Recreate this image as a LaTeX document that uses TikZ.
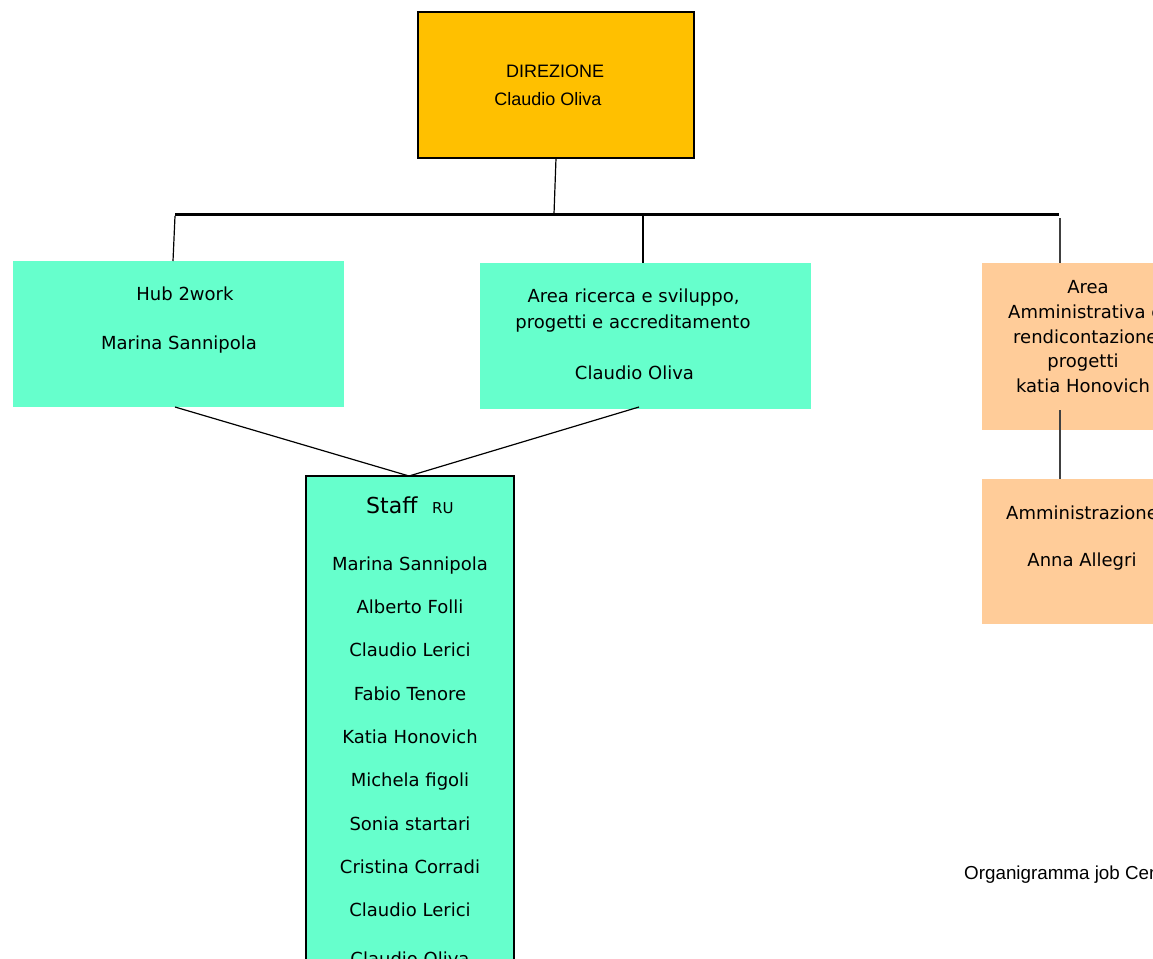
\documentclass[tikz,border=0pt]{standalone}
\usepackage{fontspec}
\setmainfont{Liberation Sans}
\newfontfamily\dv{DejaVu Sans}
\definecolor{aqua}{HTML}{66FFCC}
\definecolor{gold}{HTML}{FFC000}
\definecolor{peach}{HTML}{FFCC99}
\begin{document}
\begin{tikzpicture}[x=1pt,y=-1pt,
  box/.style={inner sep=0, outer sep=0, anchor=north west},
  txt/.style={font=\dv\fontsize{18}{21}\selectfont, inner sep=0, anchor=base},
  atxt/.style={font=\fontsize{18}{21}\selectfont, inner sep=0, anchor=base},
  conn/.style={line width=1.2pt, black}]
\useasboundingbox (0,0) rectangle (1153,958);
\clip (0,0) rectangle (1153,958);
\fill[white] (0,0) rectangle (1153,958);
% boxes
\node[box, fill=gold, draw=black, line width=2pt, minimum width=276, minimum height=146] (dir) at (418,12) {};
\node[box, fill=aqua, minimum width=331, minimum height=146] (hub) at (13,261) {};
\node[box, fill=aqua, minimum width=331, minimum height=146] (ric) at (480,263) {};
\node[box, fill=peach, minimum width=200, minimum height=167] (amm) at (982,263) {};
\node[box, fill=peach, minimum width=200, minimum height=145] (ammz) at (982,479) {};
\node[box, fill=aqua, draw=black, line width=1.3pt, minimum width=208, minimum height=520] (staff) at (306,476) {};
% bus
\coordinate (busL) at (175,214);
\coordinate (busR) at (1059,214);
\coordinate (busM) at (554,214);
\coordinate (busH) at (175,216);
\coordinate (busR2) at (643,216);
\coordinate (busA) at (1060,218);
\draw[line width=3pt] (busL) -- (busR);
\draw[conn] (556,158) -- (busM);
\draw[conn] (busH) -- (173,261);
\draw[conn] (busR2) -- (643,263);
\draw[line width=1.6pt, black!75] (busA) -- (1060,263);
\coordinate (ammBot) at (1060,410);
\coordinate (ammzTop) at (1060,479);
\draw[line width=1.6pt, black!75] (ammBot) -- (ammzTop);
\coordinate (staffTop) at (409,476);
\draw[conn] (175,407) -- (staffTop);
\draw[conn] (639,407) -- (staffTop);
% texts
\node[atxt] (t1) at (555,77.5) {DIREZIONE};
\node[atxt] (t2) at (548,105.5) {Claudio Oliva};
\node[txt] (h1) at (185,300) {Hub 2work};
\node[txt] (h2) at (179,349) {Marina Sannipola};
\node[txt] (r1) at (633.5,302) {Area ricerca e sviluppo,};
\node[txt] (r2) at (633,328) {progetti e accreditamento};
\node[txt] (r3) at (634.5,379) {Claudio Oliva};
\node[txt] (a1) at (1088,293) {Area};
\node[txt, anchor=base west] (a2) at (1008,318) {Amministrativa e};
\node[txt, anchor=base west] (a3) at (1013,343) {rendicontazione};
\node[txt] (a4) at (1083,367) {progetti};
\node[txt] (a5) at (1083,392) {katia Honovich};
\node[txt, anchor=base west] (z1) at (1006,519) {Amministrazione};
\node[txt] (z2) at (1082,566) {Anna Allegri};
\node[txt, anchor=base west, font=\dv\fontsize{22}{26}\selectfont] (s0) at (366,513) {Staff};
\node[txt, anchor=base west, font=\dv\fontsize{15}{18}\selectfont] (s00) at (432,513) {RU};
\node[txt] (s1) at (410,570) {Marina Sannipola};
\node[txt] (s2) at (410,613) {Alberto Folli};
\node[txt] (s3) at (410,656) {Claudio Lerici};
\node[txt] (s4) at (410,700) {Fabio Tenore};
\node[txt] (s5) at (410,743) {Katia Honovich};
\node[txt] (s6) at (410,786) {Michela figoli};
\node[txt] (s7) at (410,830) {Sonia startari};
\node[txt] (s8) at (410,873) {Cristina Corradi};
\node[txt] (s9) at (410,916) {Claudio Lerici};
\node[txt] (s10) at (410,965) {Claudio Oliva};
\node[anchor=base west, inner sep=0, font=\fontsize{18.8}{22}\selectfont] (org) at (964,879) {Organigramma job Centro};
\end{tikzpicture}
\end{document}
